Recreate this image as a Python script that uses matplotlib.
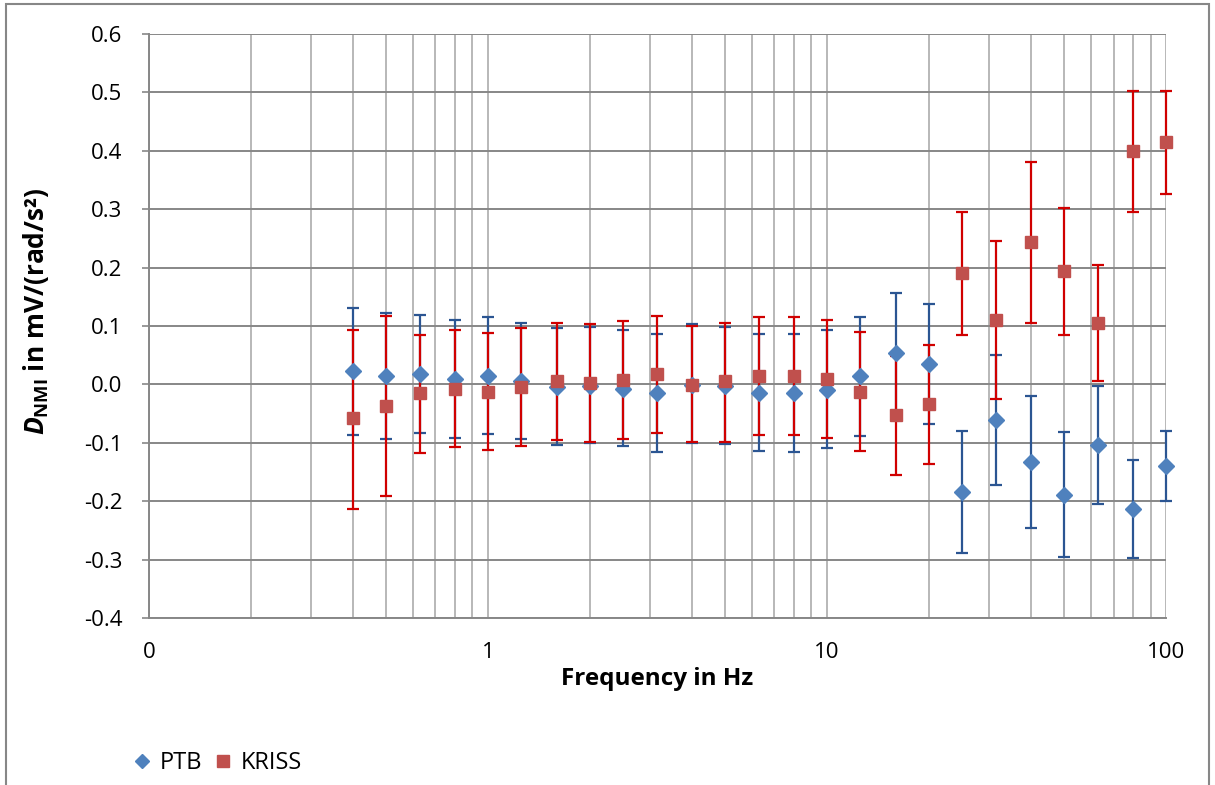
import matplotlib
matplotlib.use("Agg")
import matplotlib.pyplot as plt
from matplotlib.lines import Line2D
from matplotlib.patches import Rectangle
from matplotlib.ticker import FixedLocator, LogLocator, NullFormatter

plt.rcParams['font.family'] = ['Open Sans', 'DejaVu Sans']
plt.rcParams['mathtext.fontset'] = 'custom'
plt.rcParams['mathtext.it'] = 'Open Sans:italic:bold'
plt.rcParams['mathtext.rm'] = 'Open Sans:bold'

freq = [0.4, 0.5, 0.63, 0.8, 1, 1.25, 1.6, 2, 2.5, 3.15, 4, 5, 6.3, 8, 10,
        12.5, 16, 20, 25, 31.5, 40, 50, 63, 80, 100]

# PTB: value, upper end, lower end of the uncertainty bar
ptb = [0.023, 0.015, 0.017, 0.010, 0.015, 0.006, -0.004, -0.003, -0.007, -0.015,
       -0.001, -0.003, -0.014, -0.014, -0.009, 0.014, 0.054, 0.035, -0.185, -0.061,
       -0.133, -0.189, -0.104, -0.213, -0.139]
ptb_hi = [0.130, 0.123, 0.118, 0.110, 0.115, 0.106, 0.096, 0.099, 0.094, 0.086,
          0.104, 0.098, 0.087, 0.087, 0.093, 0.115, 0.156, 0.138, -0.080, 0.050,
          -0.020, -0.081, -0.003, -0.129, -0.079]
ptb_lo = [-0.086, -0.094, -0.083, -0.092, -0.085, -0.094, -0.103, -0.101, -0.106, -0.115,
          -0.101, -0.102, -0.114, -0.115, -0.109, -0.088, -0.047, -0.068, -0.289, -0.173,
          -0.246, -0.296, -0.204, -0.297, -0.200]

# KRISS
kriss = [-0.058, -0.037, -0.015, -0.007, -0.013, -0.004, 0.005, 0.003, 0.007, 0.017,
         -0.001, 0.005, 0.015, 0.015, 0.010, -0.013, -0.053, -0.034, 0.190, 0.110,
         0.243, 0.194, 0.105, 0.399, 0.415]
kriss_hi = [0.094, 0.117, 0.084, 0.093, 0.088, 0.097, 0.106, 0.104, 0.108, 0.117,
            0.100, 0.105, 0.115, 0.115, 0.110, 0.089, 0.048, 0.068, 0.295, 0.245,
            0.381, 0.302, 0.205, 0.502, 0.502]
kriss_lo = [-0.213, -0.191, -0.117, -0.107, -0.113, -0.105, -0.096, -0.098, -0.093, -0.084,
            -0.099, -0.098, -0.086, -0.086, -0.091, -0.114, -0.155, -0.137, 0.084, -0.025,
            0.105, 0.085, 0.005, 0.296, 0.326]

x_ticks = [0.1, 1, 10, 100]
x_labels = ["0", "1", "10", "100"]
y_ticks = [-0.4, -0.3, -0.2, -0.1, 0.0, 0.1, 0.2, 0.3, 0.4, 0.5, 0.6]

c_ptb, c_ptb_err = "#4F81BD", "#2B5592"
c_kriss, c_kriss_err = "#C0504D", "#D00000"

fig = plt.figure(figsize=(12.15, 7.85), dpi=100)
ax = fig.add_axes([0.1226, 0.2127, 0.8371, 0.744])

ax.set_xscale("log")
ax.set_xlim(0.1, 100)
ax.set_ylim(-0.4, 0.6)


def err(vals, hi, lo):
    return [[v - l for v, l in zip(vals, lo)], [h - v for v, h in zip(vals, hi)]]


def unclip(container):
    for art in container.get_children():
        art.set_clip_on(False)


unclip(ax.errorbar(freq, ptb, yerr=err(ptb, ptb_hi, ptb_lo), fmt="none",
                   ecolor=c_ptb_err, elinewidth=1.6, capsize=4.6, capthick=1.6, zorder=3))
unclip(ax.errorbar(freq, kriss, yerr=err(kriss, kriss_hi, kriss_lo), fmt="none",
                   ecolor=c_kriss_err, elinewidth=1.6, capsize=4.6, capthick=1.6, zorder=4))
ax.plot(freq, ptb, ls="none", marker="D", ms=8, color=c_ptb, zorder=5, clip_on=False)
ax.plot(freq, kriss, ls="none", marker="s", ms=9, color=c_kriss, zorder=6, clip_on=False)

ax.xaxis.set_major_locator(FixedLocator(x_ticks))
ax.set_xticklabels(x_labels)
ax.xaxis.set_minor_locator(LogLocator(base=10, subs=range(2, 10)))
ax.xaxis.set_minor_formatter(NullFormatter())
ax.set_yticks(y_ticks)
ax.set_yticklabels([f"{v:.1f}" for v in y_ticks])

ax.grid(True, which="major", axis="y", color="#878787", lw=1.4)
ax.grid(True, which="both", axis="x", color="#B8B8B8", lw=1.4)
ax.set_axisbelow(True)

for s in ["top", "right"]:
    ax.spines[s].set_visible(False)
ax.spines["left"].set_color("#878787")
ax.spines["bottom"].set_color("#878787")
ax.spines["left"].set_linewidth(1.4)
ax.spines["bottom"].set_linewidth(1.4)

ax.tick_params(axis="y", which="major", length=5, width=1.2, color="#878787",
               labelsize=16, pad=14)
ax.tick_params(axis="x", which="both", length=0, labelsize=16, pad=17)

ax.set_xlabel("Frequency in Hz", fontsize=17.5, fontweight="bold", labelpad=3)
ax.set_ylabel(r"$D_{\mathrm{NMI}}$ in mV/(rad/s²)", fontsize=19, fontweight="bold")
ax.yaxis.set_label_coords(-0.096, 0.525)

handles = [
    Line2D([], [], ls="none", marker="D", ms=7, color=c_ptb, label="PTB"),
    Line2D([], [], ls="none", marker="s", ms=8, color=c_kriss, label="KRISS"),
]
fig.legend(handles=handles, loc="center left", bbox_to_anchor=(0.1, 0.028),
           frameon=False, fontsize=17, handletextpad=0.3, columnspacing=0.45,
           ncol=2, handlelength=0.9, borderaxespad=0)

# chart area border
fig.patches.append(Rectangle((0.005, -0.05), 0.99, 1.045, transform=fig.transFigure,
                             fill=False, edgecolor="#878787", lw=1.5))

fig.savefig("out.png", dpi=100)
